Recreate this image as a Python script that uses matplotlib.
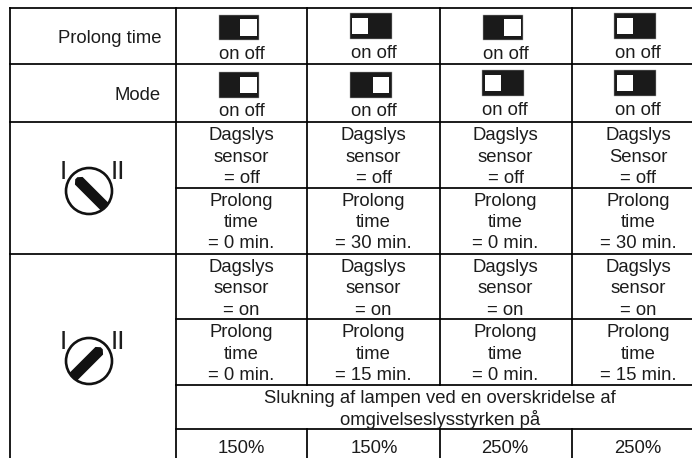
import matplotlib
matplotlib.use("Agg")
import matplotlib.pyplot as plt
from matplotlib.patches import Rectangle, Circle, Polygon
import numpy as np

# ---------- content ----------
row_labels = ["Prolong time", "Mode"]
prolong_switch = ["off", "on", "off", "on"]   # side of the white knob: off=right, on=left
mode_switch = ["off", "off", "on", "on"]
switch_caption = "on off"
dagslys_upper = [["Dagslys", "sensor", "= off"], ["Dagslys", "sensor", "= off"],
                 ["Dagslys", "sensor", "= off"], ["Dagslys", "Sensor", "= off"]]
prolong_upper = [["Prolong", "time", "= 0 min."], ["Prolong", "time", "= 30 min."],
                 ["Prolong", "time", "= 0 min."], ["Prolong", "time", "= 30 min."]]
dagslys_lower = [["Dagslys", "sensor", "= on"]] * 4
prolong_lower = [["Prolong", "time", "= 0 min."], ["Prolong", "time", "= 15 min."],
                 ["Prolong", "time", "= 0 min."], ["Prolong", "time", "= 15 min."]]
merged_lines = ["Slukning af lampen ved en overskridelse af", "omgivelseslysstyrken på"]
percent = ["150%", "150%", "250%", "250%"]

# ---------- layout (pixels) ----------
W, H = 692, 458
INK = "#1c1c1c"
FS = 13.35
col_cx = [241.5, 373.5, 505.5, 638]
fig = plt.figure(figsize=(W / 100, H / 100), dpi=100)
ax = fig.add_axes([0, 0, 1, 1])
ax.set_xlim(0, W)
ax.set_ylim(H, 0)
ax.axis("off")
plt.rcParams["font.family"] = ["Liberation Sans", "DejaVu Sans"]


def hline(y, x0, x1=W):
    ax.plot([x0, x1], [y, y], color="black", lw=1.25, solid_capstyle="projecting")


def vline(x, y0, y1=H):
    ax.plot([x, x], [y0, y1], color="black", lw=1.25, solid_capstyle="projecting")


for y in (8, 64, 122, 254):
    hline(y, 10)
for y in (188, 319, 385, 429):
    hline(y, 176)
vline(10, 8)
vline(176, 8)
for x in (307, 440, 572):
    vline(x, 8, 385)
    vline(x, 429)


def label(x, y, s, ha="center", fs=FS):
    ax.text(x, y, s, ha=ha, va="baseline", fontsize=fs, color=INK,
            family=["Liberation Sans", "DejaVu Sans"])


label(161, 43, row_labels[0], ha="right")
label(160.5, 100, row_labels[1], ha="right")


def switch(x0, x1, y0, state):
    h = 25.7
    ax.add_patch(Rectangle((x0, y0), x1 - x0, h, fc="#1a1a1a", ec="#aaaaaa", lw=0.35))
    k = 16.2
    kx = x1 - k - 2.7 if state == "off" else x0 + 2.7
    ax.add_patch(Rectangle((kx, y0 + (h - k) / 2), k, k, fc="white", ec="none"))


sw_x = [[(218.8, 259.3), (349.5, 391.5), (483, 523.3), (614, 656)],
        [(218.8, 259.3), (350, 391.5), (482, 524), (614, 656)]]
sw_y = [[14.6, 13, 14.6, 13], [72, 72, 70, 70]]
cap_x = [[241.5, 373.5, 505.5, 638], [241.5, 373.5, 505, 638]]
cap_y = [[59, 58, 59, 58], [116, 116, 115, 115]]
for r, states in enumerate([prolong_switch, mode_switch]):
    for c, st in enumerate(states):
        switch(*sw_x[r][c], sw_y[r][c], st)
        label(cap_x[r][c], cap_y[r][c], switch_caption)


def block(cells, baselines):
    for cx, cell in zip(col_cx, cells):
        for s, y in zip(cell, baselines):
            label(cx, y, s)


block(dagslys_upper, (140, 162, 183))
block(prolong_upper, (206, 227, 248))
block(dagslys_lower, (272, 293, 315))
block(prolong_lower, (337, 359, 380))
label(440, 403, merged_lines[0])
label(440, 425, merged_lines[1])
for cx, s in zip([241.5, 374.5, 505, 638], percent):
    label(cx, 453, s)


def dial(cx, cy, direction):
    """direction: (dx, dy) unit vector from the tail towards the chamfered tip."""
    d = np.array(direction, float) / np.hypot(*direction)
    n = np.array([-d[1], d[0]])
    c = np.array([cx, cy], float)
    hw = 5.4
    tip = 18
    pts = [c - d * 30 + n * hw, c + d * (tip - 3.5) + n * hw, c + d * tip + n * 1.5,
           c + d * tip - n * 1.5, c + d * (tip - 3.5) - n * hw, c - d * 30 - n * hw]
    circ = Circle((cx, cy), 23, fc="none", ec="#111111", lw=1.9, zorder=4)
    ax.add_patch(circ)
    bar = Polygon(pts, closed=True, fc="#111111", ec="none", zorder=3)
    ax.add_patch(bar)
    bar.set_clip_path(Circle((cx, cy), 23, transform=ax.transData))
    label(cx - 25.5, cy - 12, "I", fs=19)
    label(cx + 29, cy - 12, "II", fs=19)


dial(89, 191, (-1, -1))
dial(89, 361, (1, -1))

fig.savefig("out.png", dpi=100)
